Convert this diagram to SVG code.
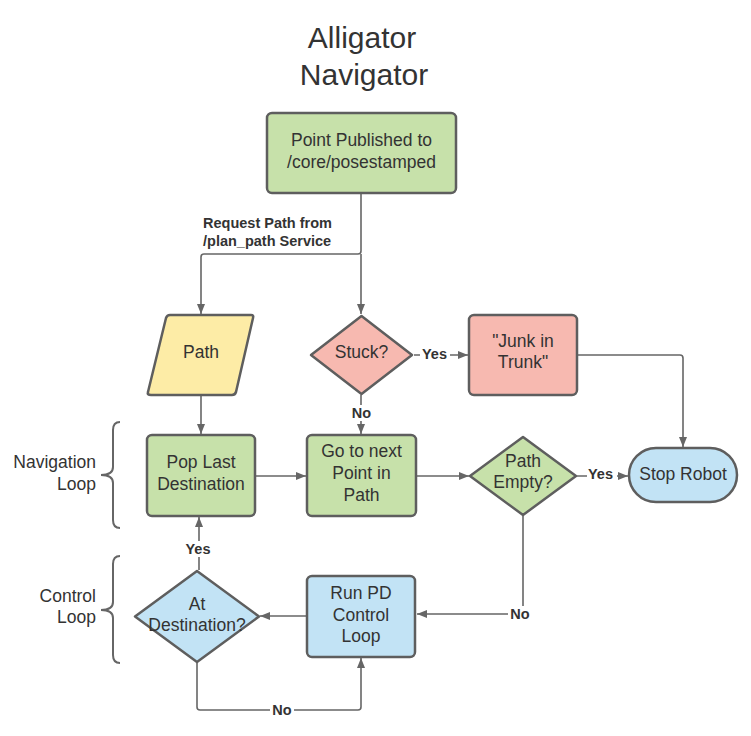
<svg xmlns="http://www.w3.org/2000/svg" width="751" height="736" viewBox="0 0 751 736">
<style>
text{font-family:"Liberation Sans",Arial,sans-serif;fill:#333;}
.t{font-size:17.5px;text-anchor:middle;}
.title{font-size:30px;text-anchor:middle;}
.lbl{font-size:14.5px;font-weight:bold;}
.side{font-size:17.5px;text-anchor:end;}
.shape{stroke:#5e5e5e;stroke-width:2.5;}
.green{fill:#c7e1aa;}
.yellow{fill:#fdeca6;}
.pink{fill:#f7b9b0;}
.blue{fill:#c2e3f5;}
.c{fill:none;stroke:#666;stroke-width:1.6;}
.brace{fill:none;stroke:#666;stroke-width:2;}
</style>
<defs>
<marker id="ah" viewBox="0 0 10 10" refX="10" refY="5" markerWidth="10" markerHeight="10" markerUnits="userSpaceOnUse" orient="auto">
<path d="M0,1 L10,5 L0,9 Z" fill="#666"/>
</marker>
</defs>
<rect width="751" height="736" fill="#fff"/>
<g id="title">
<text class="title" x="362" y="48">Alligator</text>
<text class="title" x="364" y="85">Navigator</text>
</g>
<g id="connectors">
<path class="c" d="M361,194 V251 Q361,254 358,254 H204 Q201,254 201,257 V314" marker-end="url(#ah)"/>
<path class="c" d="M361,254 V314" marker-end="url(#ah)"/>
<path class="c" d="M201,396 V434" marker-end="url(#ah)"/>
<path class="c" d="M414,355 H468" marker-end="url(#ah)"/>
<path class="c" d="M578,355 H680 Q683,355 683,358 V447" marker-end="url(#ah)"/>
<path class="c" d="M361,395 V434" marker-end="url(#ah)"/>
<path class="c" d="M256,476 H306" marker-end="url(#ah)"/>
<path class="c" d="M417,476 H469" marker-end="url(#ah)"/>
<path class="c" d="M577,476 H628" marker-end="url(#ah)"/>
<path class="c" d="M523,516 V611 Q523,614 520,614 H417" marker-end="url(#ah)"/>
<path class="c" d="M306,616 H260" marker-end="url(#ah)"/>
<path class="c" d="M199,570 V517" marker-end="url(#ah)"/>
<path class="c" d="M197,663 V707 Q197,710 200,710 H358 Q361,710 361,707 V658" marker-end="url(#ah)"/>
<g class="labels">
<text class="lbl" x="203" y="228">Request Path from</text>
<text class="lbl" x="203" y="246">/plan_path Service</text>
<rect x="420" y="346" width="30" height="16" fill="#fff"/>
<text class="lbl" x="422" y="359">Yes</text>
<rect x="350" y="405" width="23" height="16" fill="#fff"/>
<text class="lbl" x="361.5" y="418" text-anchor="middle">No</text>
<rect x="587" y="467" width="30" height="16" fill="#fff"/>
<text class="lbl" x="588" y="479">Yes</text>
<rect x="508" y="606" width="24" height="16" fill="#fff"/>
<text class="lbl" x="520" y="619" text-anchor="middle">No</text>
<rect x="183" y="541" width="32" height="16" fill="#fff"/>
<text class="lbl" x="198" y="554" text-anchor="middle">Yes</text>
<rect x="270" y="702" width="24" height="16" fill="#fff"/>
<text class="lbl" x="282" y="715" text-anchor="middle">No</text>
</g>
</g>
<g id="n-point">
<rect class="shape green" x="267" y="113" width="189" height="80" rx="5"/>
<text class="t" x="361.5" y="146">Point Published to</text>
<text class="t" x="361.5" y="168">/core/posestamped</text>
</g>
<g id="n-path">
<path class="shape yellow" d="M170,315 H251 Q254,315 253,318 L236,392 Q235,395 232,395 H151 Q147,395 148,392 L166,318 Q167,315 170,315 Z"/>
<text class="t" x="201" y="358">Path</text>
</g>
<g id="n-stuck">
<path class="shape pink" d="M361.5,316 L412,355 L361.5,394 L311,355 Z" stroke-linejoin="round"/>
<text class="t" x="361.5" y="358">Stuck?</text>
</g>
<g id="n-junk">
<rect class="shape pink" x="469" y="315" width="108" height="80" rx="5"/>
<text class="t" x="523" y="347">"Junk in</text>
<text class="t" x="523" y="368">Trunk"</text>
</g>
<g id="n-pop">
<rect class="shape green" x="147" y="435" width="108" height="81" rx="5"/>
<text class="t" x="201" y="468">Pop Last</text>
<text class="t" x="201" y="490">Destination</text>
</g>
<g id="n-goto">
<rect class="shape green" x="307" y="435" width="109" height="81" rx="5"/>
<text class="t" x="361.5" y="457">Go to next</text>
<text class="t" x="361.5" y="479">Point in</text>
<text class="t" x="361.5" y="501">Path</text>
</g>
<g id="n-empty">
<path class="shape green" d="M523,437 L576,476 L523,515 L470,476 Z" stroke-linejoin="round"/>
<text class="t" x="523" y="467">Path</text>
<text class="t" x="523" y="488">Empty?</text>
</g>
<g id="n-stop">
<rect class="shape blue" x="629" y="448" width="108" height="54" rx="27"/>
<text class="t" x="683" y="480">Stop Robot</text>
</g>
<g id="n-runpd">
<rect class="shape blue" x="307" y="576" width="108" height="81" rx="5"/>
<text class="t" x="361" y="599">Run PD</text>
<text class="t" x="361" y="621">Control</text>
<text class="t" x="361" y="642">Loop</text>
</g>
<g id="n-atdest">
<path class="shape blue" d="M197,571 L259,616.5 L197,662 L135,616.5 Z" stroke-linejoin="round"/>
<text class="t" x="197" y="610">At</text>
<text class="t" x="197" y="631">Destination?</text>
</g>
<g id="nav-loop">
<path class="brace" d="M120,422 Q113,422 113,430 V467 Q113,475 101,475 Q113,475 113,483 V520 Q113,528 120,528"/>
<text class="side" x="96" y="468">Navigation</text>
<text class="side" x="96" y="490">Loop</text>
</g>
<g id="control-loop">
<path class="brace" d="M120,556 Q113,556 113,564 V602 Q113,610 101,610 Q113,610 113,618 V655 Q113,663 120,663"/>
<text class="side" x="96" y="602">Control</text>
<text class="side" x="96" y="623">Loop</text>
</g>
</svg>
